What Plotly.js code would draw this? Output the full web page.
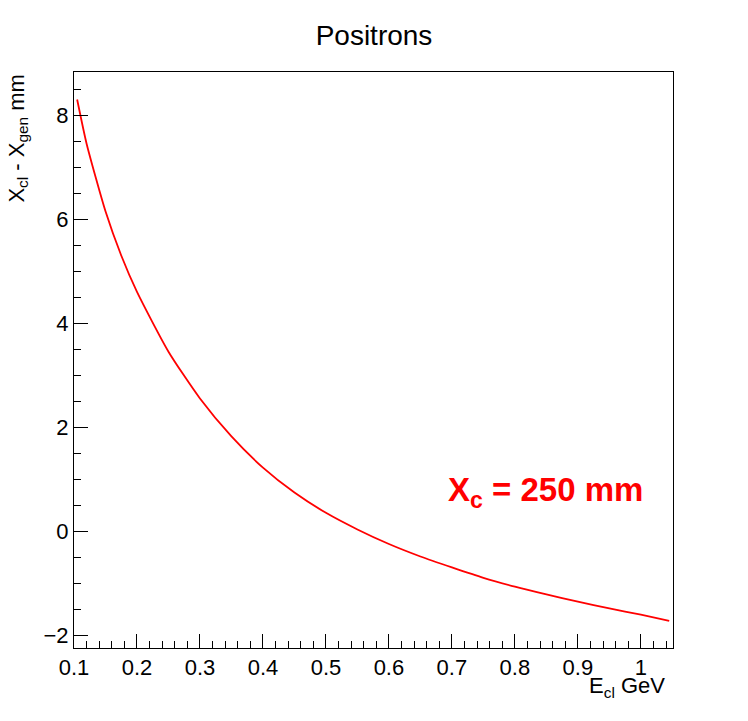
<!DOCTYPE html>
<html>
<head>
<script src="https://cdn.plot.ly/plotly-3.0.1.min.js"></script>
<style>body{margin:0;background:#fff}</style>
</head>
<body>
<div id="myDiv" style="width:748px;height:721px"></div>
<script>
let energy = [0.105, 0.12, 0.15, 0.175, 0.2, 0.25, 0.3, 0.35, 0.4, 0.45, 0.5, 0.55, 0.6, 0.65, 0.7, 0.75, 0.8, 0.85, 0.9, 0.95, 1.0, 1.045];
let deltaX = [8.3, 7.45, 6.15, 5.3, 4.6, 3.45, 2.55, 1.82, 1.22, 0.74, 0.35, 0.03, -0.25, -0.49, -0.7, -0.9, -1.07, -1.22, -1.36, -1.49, -1.61, -1.73];
let xTicks = [0.1, 0.2, 0.3, 0.4, 0.5, 0.6, 0.7, 0.8, 0.9, 1];
let yTicks = [-2, 0, 2, 4, 6, 8];

let font = { family: "Liberation Sans, Arial, sans-serif", size: 22, color: "black" };

let trace = {
  x: energy,
  y: deltaX,
  mode: "lines",
  line: { color: "red", width: 1.8, shape: "spline", smoothing: 0.6 },
  type: "scatter"
};

let axisBase = {
  showline: true,
  mirror: true,
  linecolor: "black",
  linewidth: 1,
  ticks: "inside",
  ticklen: 14,
  tickcolor: "black",
  showgrid: false,
  zeroline: false,
  tickfont: font
};

let layout = {
  width: 748,
  height: 721,
  margin: { l: 74, r: 75, t: 72, b: 73 },
  paper_bgcolor: "white",
  plot_bgcolor: "white",
  showlegend: false,
  title: { text: "Positrons", font: { family: font.family, size: 28, color: "black" }, x: 0.5, y: 0.965 },
  xaxis: Object.assign({}, axisBase, {
    range: [0.1, 1.051],
    tickvals: xTicks,
    ticktext: xTicks.map(String),
    minor: { ticks: "inside", ticklen: 7, tickcolor: "black", dtick: 0.02 }
  }),
  yaxis: Object.assign({}, axisBase, {
    range: [-2.25, 8.83],
    tickvals: yTicks,
    minor: { ticks: "inside", ticklen: 7, tickcolor: "black", dtick: 0.5 }
  }),
  annotations: [
    { text: "E<sub>cl</sub> GeV", xref: "paper", yref: "paper", x: 0.99, y: -0.04,
      xanchor: "right", yanchor: "top", showarrow: false, font: font },
    { text: "X<sub>cl</sub> - X<sub>gen</sub> mm", xref: "paper", yref: "paper", x: -0.095, y: 1.0,
      xanchor: "center", yanchor: "top", textangle: -90, showarrow: false, font: font },
    { text: "<b>X<sub>c</sub> = 250 mm</b>", xref: "x", yref: "y", x: 0.69, y: 0.75,
      xanchor: "left", yanchor: "middle", showarrow: false,
      font: { family: font.family, size: 33, color: "red" } }
  ]
};

Plotly.newPlot("myDiv", [trace], layout, { displayModeBar: false });
</script>
</body>
</html>
